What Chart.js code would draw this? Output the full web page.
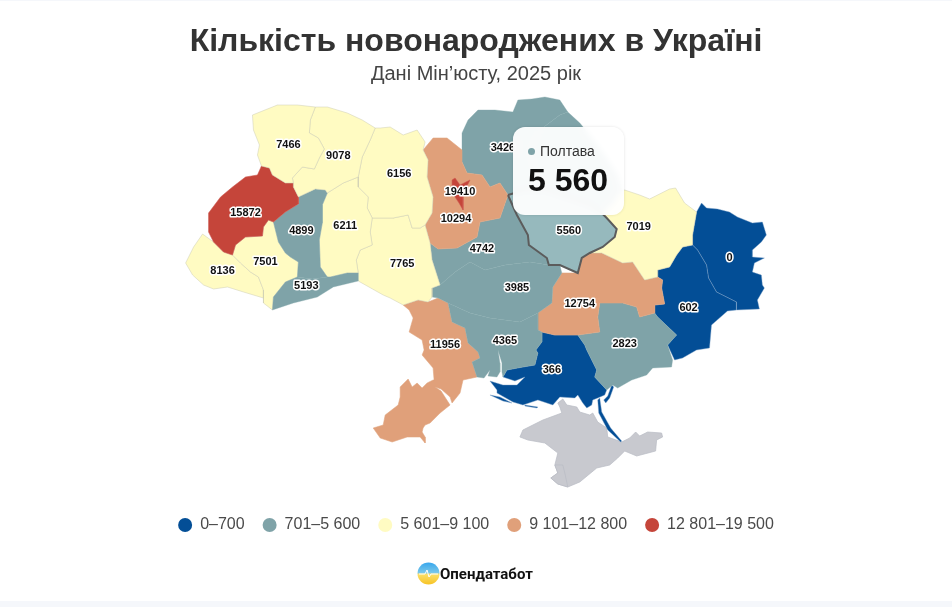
<!DOCTYPE html>
<html lang="uk">
<head>
<meta charset="utf-8">
<title>Кількість новонароджених в Україні</title>
<script src="https://cdn.jsdelivr.net/npm/chart.js@4"></script>
<style>
  html, body { margin: 0; height: 100%; overflow: hidden; background: #f5f7fb; }
  #panel { position: absolute; left: 0; top: 1px; width: 952px; height: 600px; background: #fff; }
  canvas { position: absolute; left: 0; top: 0; }
  #tip { position: absolute; left: 513px; top: 127px; width: 111px; height: 88px; box-sizing: border-box;
    background: rgba(255,255,255,.94); border-radius: 12px; box-shadow: 0 0 3px rgba(0,0,0,.12);
    backdrop-filter: blur(3px); font-family: "Liberation Sans", Arial, sans-serif; color: #111; }
  #tip i { position: absolute; left: 15px; top: 21px; width: 7px; height: 7px; border-radius: 50%; background: #7fa3a8; }
  #tip span { position: absolute; left: 27px; top: 16px; font-size: 14px; color: #333; }
  #tip b { position: absolute; left: 15px; top: 35px; font-size: 32px; white-space: nowrap; }
  #logo { position: absolute; left: 417px; top: 562px; height: 23px; display: flex; align-items: center; }
  #logo span { margin-left: 0; font: bold 15px Roboto, sans-serif; color: #111; }
</style>
</head>
<body>
<div id="panel"></div>
<canvas id="map" width="952" height="607"></canvas>
<div id="tip"><i></i><span id="tipName"></span><b id="tipValue"></b></div>
<div id="logo">
  <svg width="23" height="23" viewBox="0 0 23 23">
    <defs><linearGradient id="lg" x1="0" y1="0" x2="0" y2="1">
      <stop offset="0" stop-color="#38a7ee"/><stop offset=".48" stop-color="#7cc8e8"/>
      <stop offset=".52" stop-color="#fbe06a"/><stop offset="1" stop-color="#f7c325"/>
    </linearGradient></defs>
    <circle cx="11.5" cy="11.5" r="11" fill="url(#lg)"/>
    <path d="M2 12h6l2-4 2 7 2-3h7" fill="none" stroke="#fff" stroke-width="1"/>
  </svg>
  <span>Опендатабот</span>
</div>
<script>
// traced outlines, map units = reference pixels
const volyn = [[252,115],[277,105],[297,105],[315,107],[310,120],[309,133],[318,138],[324,149],[319,158],[314,169],[302,167],[292,178],[293,183],[285,183],[272,175],[269,168],[261,166],[257,155],[259,145],[253,130]];
const rivne = [[315,107],[327,107],[347,113],[362,120],[375,128],[370,140],[362,157],[358,177],[343,183],[327,193],[325,190],[315,189],[298,197],[293,187],[293,183],[292,178],[302,167],[314,169],[319,158],[324,149],[318,138],[309,133],[310,120]];
const lviv = [[261,166],[269,168],[272,175],[285,183],[293,183],[293,187],[298,197],[298,204],[285,212],[273,222],[268,220],[263,227],[262,236],[245,237],[235,245],[232,255],[223,252],[213,242],[208,232],[208,213],[220,197],[232,187],[245,177],[257,175]];
const ternopil = [[298,197],[315,189],[325,190],[327,193],[322,205],[322,223],[319,240],[320,267],[327,277],[312,279],[297,277],[298,262],[290,257],[285,253],[278,242],[273,222],[285,212],[298,204]];
const chernivtsi = [[297,277],[285,282],[273,297],[272,310],[293,303],[317,297],[333,287],[358,281],[358,273],[347,273],[330,277],[327,277],[312,279]];
const frankivsk = [[273,222],[268,220],[263,227],[262,236],[245,237],[235,245],[232,255],[240,263],[250,272],[258,277],[263,290],[263,303],[272,310],[273,297],[285,282],[297,277],[298,262],[290,257],[285,253],[278,242]];
const zakarpattia = [[202,234],[213,242],[223,252],[232,255],[240,263],[250,272],[258,277],[263,290],[263,298],[243,292],[227,287],[213,289],[203,285],[192,275],[185,263],[193,247]];
const khmelnytskyi = [[358,177],[358,187],[368,197],[367,208],[372,218],[370,232],[372,245],[360,250],[356,260],[358,273],[347,273],[330,277],[327,277],[320,267],[319,240],[322,223],[322,205],[327,193],[343,183]];
const zhytomyr = [[375,128],[380,128],[390,127],[403,135],[417,130],[425,142],[423,150],[428,160],[427,177],[433,197],[432,213],[425,225],[420,228],[412,228],[408,215],[393,218],[372,218],[367,208],[368,197],[358,187],[358,177],[362,157],[370,140]];
const vinnytsia = [[372,218],[393,218],[408,215],[412,228],[420,228],[425,225],[430,243],[432,260],[440,285],[432,288],[432,297],[428,302],[418,300],[403,305],[390,298],[383,295],[358,281],[358,273],[356,260],[360,250],[372,245],[370,232]];
const kyivOblast = [[430,243],[438,249],[457,248],[477,237],[480,222],[500,218],[508,195],[500,183],[490,187],[482,175],[467,173],[462,162],[462,150],[447,138],[433,138],[423,150],[428,160],[427,177],[433,197],[432,213],[425,225]];
const kyivCity = [[452,180],[455,178],[460,185],[470,180],[465,190],[463,197],[463,210],[459,203],[455,197],[452,190]];
const chernihiv = [[462,133],[468,120],[478,110],[495,110],[513,112],[518,100],[532,99],[545,97],[560,100],[568,112],[560,115],[540,130],[530,150],[535,170],[545,190],[525,190],[508,195],[500,183],[490,187],[482,175],[467,173],[462,162],[462,150]];
const sumy = [[568,112],[580,123],[590,135],[605,155],[618,175],[622,190],[612,205],[602,213],[590,205],[575,200],[560,195],[545,190],[535,170],[530,150],[540,130],[560,115]];
const poltava = [[508,195],[525,190],[545,190],[560,195],[575,200],[590,205],[602,213],[607,218],[617,229],[615,237],[603,247],[590,253],[582,258],[578,273],[560,265],[549,265],[547,258],[529,245],[528,235],[517,215]];
const kharkiv = [[625,190],[640,195],[650,199],[670,189],[676,188],[685,203],[697,212],[693,235],[693,245],[683,247],[677,255],[670,267],[658,270],[658,277],[645,280],[633,262],[623,263],[602,253],[590,253],[603,247],[615,237],[617,229],[607,218],[602,213],[612,205],[622,190]];
const cherkasy = [[430,243],[438,249],[457,248],[477,237],[480,222],[500,218],[508,195],[517,215],[528,235],[529,245],[547,258],[549,265],[530,262],[505,265],[485,270],[470,262],[455,272],[440,285],[432,260]];
const kirovohrad = [[440,285],[455,272],[470,262],[485,270],[505,265],[530,262],[549,265],[560,265],[562,273],[553,287],[552,303],[538,313],[520,322],[490,318],[470,313],[448,303],[438,298],[432,297],[432,288]];
const mykolaiv = [[448,303],[470,313],[490,318],[520,322],[538,313],[538,330],[542,332],[542,342],[536,350],[538,353],[535,365],[523,367],[507,370],[503,377],[502,372],[502,363],[498,350],[500,363],[500,372],[497,377],[488,376],[490,370],[484,378],[477,377],[472,362],[480,358],[478,352],[468,343],[465,328],[452,322]];
const odesa = [[403,305],[418,300],[428,302],[438,298],[448,303],[452,322],[465,328],[468,343],[478,352],[480,358],[472,362],[477,377],[463,380],[460,393],[452,403],[450,397],[441,389],[435,387],[441,391],[450,405],[440,413],[430,423],[425,425],[423,428],[422,432],[425,437],[425,443],[420,437],[407,437],[392,442],[380,438],[373,428],[383,425],[385,415],[398,405],[400,397],[400,387],[408,379],[412,387],[417,383],[422,388],[427,383],[433,380],[434,380],[433,368],[422,355],[424,350],[422,340],[409,332],[413,318],[409,310]];
const dnipro = [[562,273],[578,273],[582,258],[590,253],[602,253],[623,263],[633,262],[645,280],[658,277],[663,280],[662,288],[665,304],[655,305],[655,313],[640,317],[637,307],[623,303],[600,303],[598,317],[600,332],[578,335],[555,335],[542,332],[538,330],[538,313],[552,303],[553,287]];
const zaporizhzhia = [[578,335],[600,332],[598,317],[600,303],[623,303],[637,307],[640,317],[655,313],[658,317],[677,335],[668,345],[673,360],[672,367],[653,368],[647,375],[632,380],[618,388],[613,385],[607,390],[595,377],[597,370],[587,350],[585,345]];
const kherson = [[542,332],[555,335],[578,335],[585,345],[587,350],[597,370],[595,377],[607,390],[605,395],[598,398],[593,400],[592,405],[587,408],[583,403],[578,395],[575,398],[560,397],[553,405],[538,400],[523,405],[513,402],[497,393],[497,390],[490,381],[503,385],[517,385],[525,377],[515,381],[503,377],[507,370],[523,367],[535,365],[538,353],[536,350],[542,342]];
const tendra = [[490,395],[500,397],[512,403],[503,401]];
const dzharylhach = [[525,405],[538,407],[537,408],[525,406]];
const arabat = [[598,400],[600,398],[602,412],[611,428],[622,441],[621,442],[608,430],[599,413]];
const fedotova = [[606,403],[610,398],[614,387],[612,385],[608,396],[604,400]];
const donetsk = [[658,270],[670,267],[677,255],[683,247],[693,245],[698,250],[707,265],[709,278],[717,292],[737,302],[737,310],[728,311],[712,325],[710,348],[697,350],[683,358],[675,360],[668,345],[677,335],[658,317],[655,313],[655,305],[665,304],[662,288],[663,280],[658,277]];
const luhansk = [[693,245],[693,235],[697,212],[702,203],[707,208],[718,209],[730,212],[738,217],[753,223],[763,222],[767,235],[762,242],[753,250],[753,257],[765,258],[755,263],[753,272],[762,275],[763,285],[765,288],[758,300],[760,309],[737,310],[737,302],[717,292],[709,278],[707,265],[698,250]];
const crimea = [[558,403],[563,399],[567,405],[577,407],[580,412],[590,415],[593,413],[598,422],[607,428],[608,437],[622,442],[630,438],[636,432],[640,436],[648,432],[662,433],[663,437],[657,440],[656,451],[637,456],[625,451],[618,458],[610,465],[597,468],[580,482],[568,487],[558,484],[551,478],[558,473],[555,465],[558,453],[545,443],[528,440],[520,437],[523,430],[543,420],[562,413],[560,407]];
const sevastopol = [[555,465],[563,465],[565,473],[568,487],[558,484],[551,478],[558,473]];

// earlier entries are painted on top
const regionOutlines = [volyn, rivne, lviv, ternopil, chernivtsi, frankivsk, zakarpattia, khmelnytskyi, zhytomyr, vinnytsia, kyivCity, kyivOblast, chernihiv, sumy, kharkiv, cherkasy, kirovohrad, mykolaiv, odesa, dnipro, zaporizhzhia, kherson, tendra, dzharylhach, arabat, fedotova, donetsk, luhansk, sevastopol, crimea];
// sumy is hidden by the tooltip, it only takes the colour of its neighbour; crimea has no data
const regionValues = [7466, 9078, 15872, 4899, 5193, 7501, 8136, 6211, 6156, 7765, 19410, 10294, 3426, 3426, 7019, 4742, 3985, 4365, 11956, 12754, 2823, 366, 366, 366, 366, 366, 602, 0, null, null];

const labelValues = [7466, 9078, 6156, 6211, 7765, 15872, 4899, 7501, 8136, 5193, 3426, 19410, 10294, 4742, 5560, 7019, 0, 3985, 12754, 602, 11956, 4365, 2823, 366];
const labelX = [288, 338, 399, 345, 402, 245, 301, 265, 222, 306, 503, 460, 456, 482, 569, 639, 730, 517, 580, 689, 445, 505, 625, 552];
const labelY = [145, 156, 174, 226, 264, 213, 231, 262, 271, 286, 148, 192, 219, 249, 231, 227, 258, 288, 304, 308, 345, 341, 344, 370];

const binLabels = ['0–700', '701–5 600', '5 601–9 100', '9 101–12 800', '12 801–19 500'];
const binLimits = [700, 5600, 9100, 12800, 19500];
const binColors = ['#034e96', '#7fa3a8', '#fffbc2', '#e0a07a', '#c5453a'];
const binLines = ['rgba(125,160,200,0.6)', 'rgba(132,168,173,0.5)', 'rgba(205,205,180,0.7)', 'rgba(224,165,128,0.8)', 'rgba(205,90,80,0.8)'];
const noDataColor = '#c8c9cf';
const noDataLine = '#b9bbc4';

const hoverName = 'Полтава';
const hoverValue = 5560;

const binOf = v => binLimits.findIndex(l => v <= l);
const toPoints = shape => [...shape, shape[0]].map(([x, y]) => ({ x, y }));

const regionSet = (shape, color, line, width = 0.7) => ({
  data: toPoints(shape),
  showLine: true,
  fill: 'shape',
  backgroundColor: color,
  borderColor: line,
  borderWidth: width,
  pointRadius: 0,
  tension: 0
});

const datasets = regionOutlines.map((shape, i) => {
  const v = regionValues[i];
  return v === null
    ? regionSet(shape, noDataColor, noDataLine)
    : regionSet(shape, binColors[binOf(v)], binLines[binOf(v)]);
});
// first dataset is drawn on top
datasets.unshift(regionSet(poltava, '#96b9bd', '#5c5c5c', 2));

const valueLabels = {
  id: 'valueLabels',
  afterDatasetsDraw(chart) {
    const { ctx, scales } = chart;
    ctx.save();
    ctx.font = 'bold 11px "Liberation Sans", Arial, sans-serif';
    ctx.textAlign = 'center';
    ctx.textBaseline = 'middle';
    ctx.lineJoin = 'round';
    labelValues.forEach((v, i) => {
      const x = scales.x.getPixelForValue(labelX[i]);
      const y = scales.y.getPixelForValue(labelY[i]);
      ctx.lineWidth = 3;
      ctx.strokeStyle = '#fff';
      ctx.strokeText(v, x, y);
      ctx.fillStyle = '#111';
      ctx.fillText(v, x, y);
    });
    ctx.restore();
  }
};

const chart = new Chart(document.getElementById('map').getContext('2d'), {
  type: 'scatter',
  data: { datasets },
  options: {
    responsive: false,
    animation: false,
    events: [],
    layout: { padding: { bottom: 64 } },
    scales: {
      x: { type: 'linear', display: false, min: 0, max: 952 },
      y: { type: 'linear', display: false, reverse: true, min: 0, max: 607 }
    },
    plugins: {
      tooltip: { enabled: false },
      title: {
        display: true,
        text: 'Кількість новонароджених в Україні',
        color: '#333',
        font: { family: '"Liberation Sans", Arial, sans-serif', size: 32, weight: 'bold' },
        padding: { top: 23, bottom: 1 }
      },
      subtitle: {
        display: true,
        text: 'Дані Мін’юсту, 2025 рік',
        color: '#444',
        font: { family: '"Liberation Sans", Arial, sans-serif', size: 20, weight: 'normal' },
        padding: { top: 0, bottom: 4 }
      },
      legend: {
        position: 'bottom',
        labels: {
          usePointStyle: true,
          pointStyleWidth: 14,
          boxHeight: 10,
          padding: 18,
          color: '#4a4a4a',
          font: { family: '"Liberation Sans", Arial, sans-serif', size: 16 },
          generateLabels: () => binLabels.map((text, i) => ({
            text, fillStyle: binColors[i], strokeStyle: binColors[i], lineWidth: 0,
            pointStyle: 'circle', fontColor: '#4a4a4a', datasetIndex: i
          }))
        }
      }
    }
  },
  plugins: [valueLabels]
});

// line the scales up with the chart area so map units stay reference pixels
const area = chart.chartArea;
chart.options.scales.x.min = area.left;
chart.options.scales.x.max = area.right;
chart.options.scales.y.min = area.top;
chart.options.scales.y.max = area.bottom;
chart.update('none');

document.getElementById('tipName').textContent = hoverName;
document.getElementById('tipValue').textContent = hoverValue.toLocaleString('uk-UA').replace(/\s/g, ' ');
</script>
</body>
</html>
